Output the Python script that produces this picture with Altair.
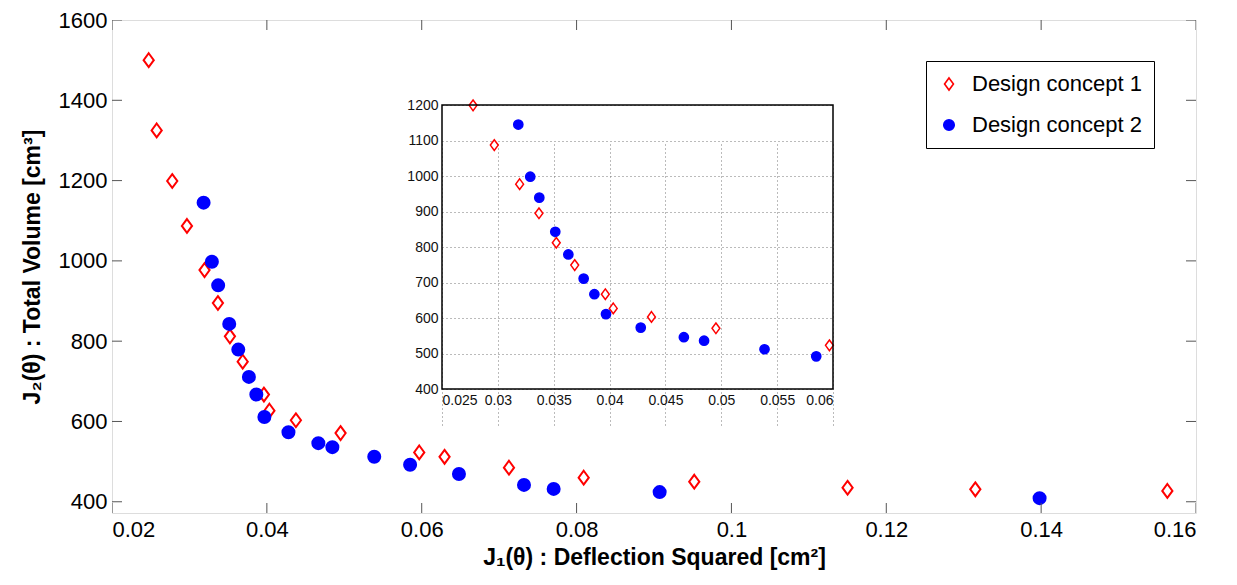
import altair as alt
import pandas as pd

# ---------------- data ----------------
SERIES = ["Design concept 1", "Design concept 2"]

C1_X = [0.02474, 0.02577, 0.02778, 0.02968, 0.03195, 0.03368, 0.03523, 0.03688,
        0.03962, 0.04033, 0.04375, 0.04952, 0.05968, 0.06295, 0.07127, 0.08092,
        0.09520, 0.11500, 0.13150, 0.15630]
C1_Y = [1500, 1325, 1199, 1087, 977, 895, 812, 749,
        667, 627, 603, 571, 523, 512, 485, 460,
        450, 435, 431, 427]

C2_X = [0.03183, 0.03290, 0.03371, 0.03514, 0.03631, 0.03768, 0.03864, 0.03968,
        0.04279, 0.04665, 0.04846, 0.05387, 0.05850, 0.06481, 0.07321, 0.07704,
        0.09073, 0.13980]
C2_Y = [1145, 998, 939, 843, 779, 711, 667, 611,
        573, 546, 536, 512, 492, 469, 442, 432,
        424, 409]

MAIN_X_DOMAIN = [0.02, 0.16]
MAIN_Y_DOMAIN = [372, 1600]
MAIN_X_TICKS = [0.02, 0.04, 0.06, 0.08, 0.10, 0.12, 0.14, 0.16]
MAIN_Y_TICKS = [400, 600, 800, 1000, 1200, 1400, 1600]

INSET_X_DOMAIN = [0.025, 0.06]
INSET_Y_DOMAIN = [400, 1200]
INSET_X_TICKS = [0.025, 0.03, 0.035, 0.04, 0.045, 0.05, 0.055, 0.06]
INSET_Y_TICKS = [400, 500, 600, 700, 800, 900, 1000, 1100, 1200]

X_TITLE = "J\u2081(\u03b8) : Deflection Squared [cm\u00b2]"
Y_TITLE = "J\u2082(\u03b8) : Total Volume [cm\u00b3]"

# ---------------- layout constants ----------------
W, H = 1084, 493
INSET_X_RANGE = [330, 721]
INSET_Y_RANGE = [369, 85]
FONT = "Liberation Sans"
DIAMOND = "M0,-1.15L0.85,0L0,1.15L-0.85,0Z"

df = pd.concat([
    pd.DataFrame({"x": C1_X, "y": C1_Y, "series": SERIES[0]}),
    pd.DataFrame({"x": C2_X, "y": C2_Y, "series": SERIES[1]}),
], ignore_index=True)

legend = alt.Legend(
    title=None, orient="none", legendX=814, legendY=41,
    strokeColor="black", fillColor="white", padding=12, rowPadding=19,
    labelFont=FONT, labelFontSize=22, labelColor="black", labelOffset=12, labelLimit=400,
    symbolSize=110, symbolStrokeWidth=1.6, cornerRadius=0,
)
series_enc = dict(
    shape=alt.Shape("series:N", scale=alt.Scale(domain=SERIES, range=[DIAMOND, "circle"]), legend=legend),
    fill=alt.Fill("series:N", scale=alt.Scale(domain=SERIES, range=["#ffffff", "#0000ff"]), legend=legend),
    stroke=alt.Stroke("series:N", scale=alt.Scale(domain=SERIES, range=["#ff0000", "#0000ff"]), legend=legend),
)

# ---------------- main panel ----------------
xs = alt.Scale(domain=MAIN_X_DOMAIN, nice=False, zero=False)
ys = alt.Scale(domain=MAIN_Y_DOMAIN, nice=False, zero=False)
main_x_axis = alt.Axis(values=MAIN_X_TICKS, format="~g", grid=False, domain=False, ticks=False,
                       labelFont=FONT, labelFontSize=22, labelColor="black", labelPadding=6,
                       titleFont=FONT, titleFontSize=23, titleFontWeight="bold", titleColor="black",
                       titlePadding=6)
main_y_axis = alt.Axis(values=MAIN_Y_TICKS, format="d", grid=False, domain=False, ticks=False,
                       labelFont=FONT, labelFontSize=22, labelColor="black", labelPadding=5,
                       titleFont=FONT, titleFontSize=23, titleFontWeight="bold", titleColor="black",
                       titlePadding=14)

main_pts = alt.Chart(df).mark_point(size=144, strokeWidth=2, opacity=1).encode(
    x=alt.X("x:Q", scale=xs, axis=main_x_axis, title=X_TITLE),
    y=alt.Y("y:Q", scale=ys, axis=main_y_axis, title=Y_TITLE),
    **series_enc,
)

xt = pd.DataFrame({"x": MAIN_X_TICKS})
yt = pd.DataFrame({"y": MAIN_Y_TICKS})
tick_style = dict(thickness=1, color="#555555", clip=True, opacity=1)
ticks_bottom = alt.Chart(xt).mark_tick(orient="vertical", size=20, **tick_style).encode(
    x=alt.X("x:Q", scale=xs, axis=main_x_axis, title=X_TITLE), y=alt.value(H))
ticks_top = alt.Chart(xt).mark_tick(orient="vertical", size=20, **tick_style).encode(
    x=alt.X("x:Q", scale=xs, axis=main_x_axis, title=X_TITLE), y=alt.value(0))
ticks_left = alt.Chart(yt).mark_tick(orient="horizontal", size=20, **tick_style).encode(
    y=alt.Y("y:Q", scale=ys, axis=main_y_axis, title=Y_TITLE), x=alt.value(0))
ticks_right = alt.Chart(yt).mark_tick(orient="horizontal", size=20, **tick_style).encode(
    y=alt.Y("y:Q", scale=ys, axis=main_y_axis, title=Y_TITLE), x=alt.value(W))

main = alt.layer(main_pts, ticks_bottom, ticks_top, ticks_left, ticks_right)

# ---------------- inset panel ----------------
ixs = alt.Scale(domain=INSET_X_DOMAIN, range=INSET_X_RANGE, nice=False, zero=False)
iys = alt.Scale(domain=INSET_Y_DOMAIN, range=INSET_Y_RANGE, nice=False, zero=False)
inset_x_axis = alt.Axis(orient="bottom", offset=-(H - INSET_Y_RANGE[0]), values=INSET_X_TICKS,
                        format="~g", grid=True, gridDash=[1, 3], gridColor="#777777",
                        domain=False, ticks=False, labelFont=FONT, labelFontSize=14,
                        labelColor="#111111", labelPadding=4)
inset_y_axis = alt.Axis(orient="left", offset=-INSET_X_RANGE[0], values=INSET_Y_TICKS, format="d",
                        grid=True, gridDash=[1, 3], gridColor="#777777",
                        domain=False, ticks=False, labelFont=FONT, labelFontSize=14,
                        labelColor="#111111", labelPadding=4)

box_df = pd.DataFrame({"x": [INSET_X_DOMAIN[0]], "x2": [INSET_X_DOMAIN[1]],
                       "y": [INSET_Y_DOMAIN[0]], "y2": [INSET_Y_DOMAIN[1]]})
inset_box = alt.Chart(box_df).mark_rect(fill="transparent", stroke="black", strokeWidth=1.5).encode(
    x=alt.X("x:Q", scale=ixs, axis=inset_x_axis, title=None), x2="x2:Q",
    y=alt.Y("y:Q", scale=iys, axis=inset_y_axis, title=None), y2="y2:Q",
)
inset_pts = alt.Chart(df).transform_filter(
    alt.FieldRangePredicate(field="x", range=INSET_X_DOMAIN)
).transform_filter(
    alt.FieldRangePredicate(field="y", range=INSET_Y_DOMAIN)
).mark_point(size=85, strokeWidth=1.5, opacity=1).encode(
    x=alt.X("x:Q", scale=ixs, axis=inset_x_axis, title=None),
    y=alt.Y("y:Q", scale=iys, axis=inset_y_axis, title=None),
    **series_enc,
)
inset = alt.layer(inset_pts, inset_box)

chart = alt.layer(main, inset).resolve_scale(x="independent", y="independent").properties(
    width=W, height=H,
    padding={"left": 104, "top": 12, "right": 30, "bottom": 60},
    autosize=alt.AutoSizeParams(type="none"),
).configure_view(stroke="black", strokeWidth=1.5).configure(font=FONT, background="white")

chart.save("out.html", embed_options={"renderer": "svg", "actions": False})
